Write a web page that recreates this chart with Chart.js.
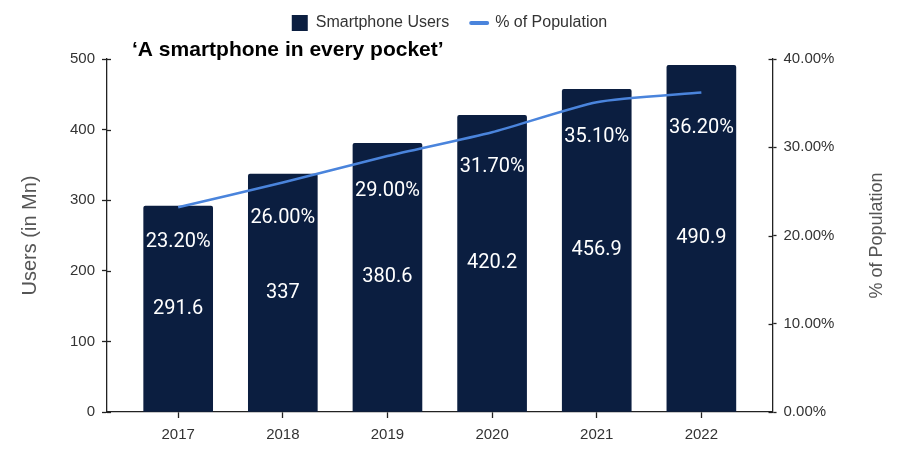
<!DOCTYPE html>
<html>
<head>
<meta charset="utf-8">
<script src="https://cdn.jsdelivr.net/npm/chart.js@4.4.1/dist/chart.umd.min.js"></script>
<style>
    html, body { margin: 0; padding: 0; background: #fff; }
    #wrap { width: 899px; height: 454px; }
</style>
</head>
<body>
<div id="wrap"><canvas id="chart" width="899" height="454"></canvas></div>
<script>
// ---- dados ----
const years = ['2017', '2018', '2019', '2020', '2021', '2022'];
const users = [291.6, 337, 380.6, 420.2, 456.9, 490.9];
const popShare = [23.2, 26.0, 29.0, 31.7, 35.1, 36.2];
const usersTicks = [0, 100, 200, 300, 400, 500];
const shareTicks = [0, 10, 20, 30, 40];

const chartTitle = '\u2018A smartphone in every pocket\u2019';
const rightAxisTitle = '% of Population';
const BAR_COLOR = '#0b1e40';
const LINE_COLOR = '#4a84dc';
const AXIS_COLOR = '#222';
const BASE_FONT = 'Liberation Sans, Arial, sans-serif';
const TICK_FONT = { family: BASE_FONT, size: 15 };
const AXIS_TITLE_FONT = { family: BASE_FONT, size: 18 };
const RIGHT_TITLE_PAD = { top: 11, bottom: 25 };
const LEGEND_PAD = 22;
const LEGEND_LIFT = 10;

// rótulos dentro das barras + título + marcas internas dos eixos
const overlayPlugin = {
    id: 'overlay',
    beforeInit(chart) {
        const fit = chart.legend.fit;
        chart.legend.fit = function () {
            fit.call(this);
            this.height += 18 - LEGEND_LIFT;
        };
    },
    afterLayout(chart) {
        // espaçamento largo entre itens sem empurrar a legenda para baixo
        chart.legend.top -= LEGEND_LIFT;
        chart.legend.bottom -= LEGEND_LIFT;
    },
    afterDatasetsDraw(chart) {
        const ctx = chart.ctx;
        const barMeta = chart.getDatasetMeta(0);
        const lineMeta = chart.getDatasetMeta(1);
        ctx.save();
        ctx.fillStyle = '#fff';
        ctx.font = '20px Roboto, sans-serif';
        ctx.textAlign = 'center';
        ctx.textBaseline = 'middle';
        barMeta.data.forEach((bar, i) => {
            ctx.fillText(String(users[i]), bar.x, (bar.y + bar.base) / 2);
        });
        lineMeta.data.forEach((pt, i) => {
            ctx.fillText(popShare[i].toFixed(2) + '%', pt.x, pt.y + 35);
        });
        ctx.restore();
    },
    afterDraw(chart) {
        const ctx = chart.ctx;
        const area = chart.chartArea;
        ctx.save();
        // pequenas marcas para dentro nos eixos Y
        ctx.strokeStyle = AXIS_COLOR;
        ctx.lineWidth = 1.3;
        ['y', 'y1'].forEach(id => {
            const s = chart.scales[id];
            const dir = id === 'y' ? 1 : -1;
            const x0 = id === 'y' ? area.left : area.right;
            s.ticks.forEach(t => {
                const py = Math.round(s.getPixelForValue(t.value)) + 0.5;
                ctx.beginPath();
                ctx.moveTo(x0, py);
                ctx.lineTo(x0 + dir * 4, py);
                ctx.stroke();
            });
        });

        // título do eixo direito, lido de baixo para cima
        const r = chart.scales.y1;
        const lh = AXIS_TITLE_FONT.size * 1.2;
        ctx.save();
        ctx.translate(r.right - RIGHT_TITLE_PAD.top - lh / 2, (area.top + area.bottom) / 2);
        ctx.rotate(-Math.PI / 2);
        ctx.fillStyle = '#555';
        ctx.font = AXIS_TITLE_FONT.size + 'px ' + BASE_FONT;
        ctx.textAlign = 'center';
        ctx.textBaseline = 'middle';
        ctx.fillText(rightAxisTitle, 0, 0);
        ctx.restore();

        ctx.fillStyle = '#000';
        ctx.font = 'bold 21px ' + BASE_FONT;
        ctx.textAlign = 'left';
        ctx.textBaseline = 'middle';
        ctx.fillText(chartTitle, area.left + 25, area.top - 9);
        ctx.restore();
    }
};

const ctx = document.getElementById('chart').getContext('2d');
new Chart(ctx, {
    data: {
        datasets: [
            {
                type: 'bar',
                label: 'Smartphone Users',
                data: users.map((v, i) => ({ x: i, y: v })),
                backgroundColor: BAR_COLOR,
                borderWidth: 0,
                borderRadius: 2,
                barThickness: 69,
                pointStyle: 'rect',
                yAxisID: 'y',
                order: 2
            },
            {
                type: 'line',
                label: '% of Population',
                data: popShare.map((v, i) => ({ x: i, y: v })),
                borderColor: LINE_COLOR,
                backgroundColor: LINE_COLOR,
                borderWidth: 2.5,
                pointRadius: 0,
                tension: 0.2,
                pointStyle: 'line',
                yAxisID: 'y1',
                order: 1
            }
        ]
    },
    options: {
        responsive: false,
        animation: false,
        layout: { padding: { top: 3, left: 0, right: 0, bottom: 2 } },
        plugins: {
            tooltip: { enabled: false },
            title: { display: false },
            legend: {
                display: true,
                position: 'top',
                labels: {
                    usePointStyle: true,
                    pointStyleWidth: 16,
                    boxHeight: 16,
                    padding: LEGEND_PAD,
                    color: '#333',
                    font: { family: BASE_FONT, size: 16 },
                    sort: (a, b) => a.datasetIndex - b.datasetIndex,
                    generateLabels(chart) {
                        const items = Chart.defaults.plugins.legend.labels.generateLabels(chart);
                        items.forEach(it => {
                            if (it.datasetIndex === 1) {
                                it.lineWidth = 4;
                                it.lineCap = 'round';
                            }
                        });
                        return items;
                    }
                }
            }
        },
        scales: {
            x: {
                type: 'linear',
                offset: false,
                min: -0.68,
                max: 5.68,
                afterBuildTicks(scale) {
                    scale.ticks = years.map((_, i) => ({ value: i }));
                },
                ticks: {
                    color: '#333',
                    font: TICK_FONT,
                    padding: 8,
                    callback: v => years[v]
                },
                grid: { offset: false, drawOnChartArea: false, tickLength: 6, color: AXIS_COLOR, tickWidth: 1.3 },
                border: { color: AXIS_COLOR, width: 1.3 }
            },
            y: {
                type: 'linear',
                position: 'left',
                min: 0,
                max: 500,
                afterBuildTicks(scale) {
                    scale.ticks = usersTicks.map(v => ({ value: v }));
                },
                ticks: { color: '#333', font: TICK_FONT, padding: 7 },
                grid: { drawOnChartArea: false, tickLength: 5, color: AXIS_COLOR, tickWidth: 1.3 },
                border: { color: AXIS_COLOR, width: 1.3 },
                title: {
                    display: true,
                    text: 'Users (in Mn)',
                    color: '#555',
                    font: { family: BASE_FONT, size: 20 },
                    padding: { top: 18, bottom: 21 }
                }
            },
            y1: {
                type: 'linear',
                position: 'right',
                min: 0,
                max: 40,
                afterBuildTicks(scale) {
                    scale.ticks = shareTicks.map(v => ({ value: v }));
                },
                ticks: {
                    color: '#333',
                    font: TICK_FONT,
                    padding: 7,
                    callback: v => v.toFixed(2) + '%'
                },
                grid: { drawOnChartArea: false, tickLength: 4, color: AXIS_COLOR, tickWidth: 1.3 },
                border: { color: AXIS_COLOR, width: 1.3 },
                // reserva o espaço; o texto é desenhado no plugin
                title: {
                    display: true,
                    text: rightAxisTitle,
                    color: 'rgba(0,0,0,0)',
                    font: AXIS_TITLE_FONT,
                    padding: RIGHT_TITLE_PAD
                }
            }
        }
    },
    plugins: [overlayPlugin]
});
</script>
</body>
</html>
